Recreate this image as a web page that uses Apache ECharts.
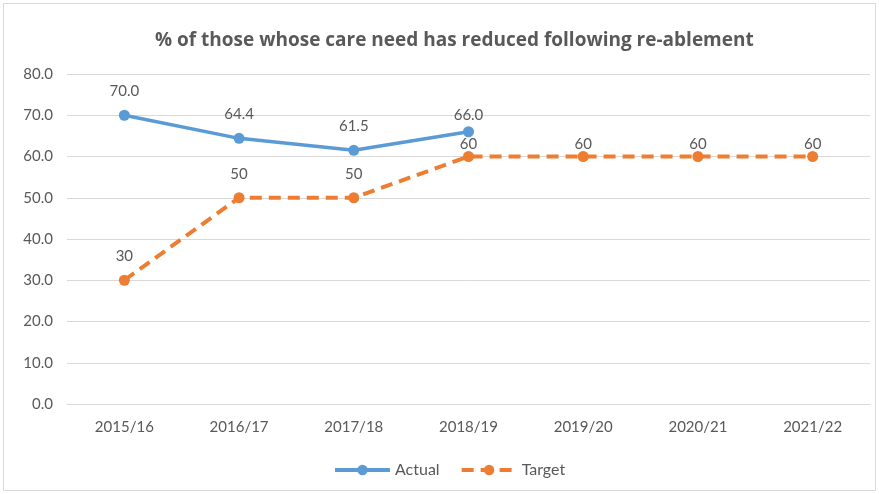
<!DOCTYPE html>
<html><head><meta charset="utf-8">
<script src="https://cdn.jsdelivr.net/npm/echarts@6/dist/echarts.min.js"></script>
<style>html,body{margin:0;padding:0;background:#fff}#c{width:879px;height:494px}</style>
</head><body><div id="c"></div>
<script>
var categories = ['2015/16','2016/17','2017/18','2018/19','2019/20','2020/21','2021/22'];
var actual = [70.0, 64.4, 61.5, 66.0, null, null, null];
var target = [30, 50, 50, 60, 60, 60, 60];
var yTicks = [0, 10, 20, 30, 40, 50, 60, 70, 80];
var FONT = 'Lato, "Open Sans", sans-serif';
var TEXT = '#595959';
var chart = echarts.init(document.getElementById('c'));
chart.setOption({
  animation: false,
  backgroundColor: '#fff',
  graphic: [{type:'rect', shape:{x:3.5,y:3.5,width:872,height:487}, style:{fill:'none', stroke:'#d9d9d9', lineWidth:1}}],
  title: {text: '% of those whose care need has reduced following re-ablement', left: 150, top: 26,
    textStyle: {fontFamily: '"Open Sans", sans-serif', fontSize: 19, fontWeight: 'bold', color: TEXT}},
  legend: {bottom: 11, left: 328, itemWidth: 55, itemHeight: 13, itemGap: 20,
    lineStyle: {width: 4},
    textStyle: {fontFamily: FONT, fontSize: 16, color: TEXT},
    data: ['Actual', 'Target']},
  grid: {left: 67, right: 9, top: 74, bottom: 90, containLabel: false},
  xAxis: {type: 'category', data: categories, boundaryGap: true,
    axisLine: {show: true, lineStyle: {color: '#d9d9d9'}}, axisTick: {show: false},
    axisLabel: {fontFamily: FONT, fontSize: 15, color: TEXT, margin: 16}},
  yAxis: {type: 'value', min: yTicks[0], max: yTicks[yTicks.length-1], interval: 10,
    axisLine: {show: false}, axisTick: {show: false},
    splitLine: {lineStyle: {color: '#d9d9d9'}},
    axisLabel: {fontFamily: FONT, fontSize: 15, color: TEXT, margin: 14,
      formatter: function(v){return v.toFixed(1);}}},
  series: [
    {name: 'Actual', type: 'line', connectNulls: false,
      data: actual.map(function(v, i){ return {value: v, label: {distance: i === 3 ? 4 : 11}}; }),
      symbol: 'circle', symbolSize: 11,
      lineStyle: {color: '#5B9BD5', width: 3.5}, itemStyle: {color: '#5B9BD5'},
      label: {show: true, position: 'top', fontFamily: FONT, fontSize: 15, color: TEXT,
        formatter: function(p){return p.value == null ? '' : p.value.toFixed(1);}}},
    {name: 'Target', type: 'line',
      data: target.map(function(v, i){ return {value: v, label: {distance: i >= 3 ? -1 : 11}}; }),
      symbol: 'circle', symbolSize: 11,
      lineStyle: {color: '#ED7D31', width: 4, type: [12, 7]}, itemStyle: {color: '#ED7D31'},
      label: {show: true, position: 'top', fontFamily: FONT, fontSize: 15, color: TEXT}}
  ]
});
</script></body></html>
